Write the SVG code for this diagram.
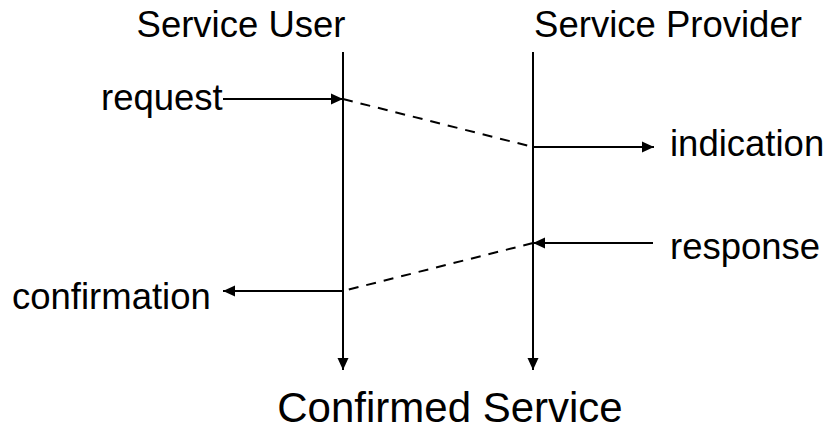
<svg xmlns="http://www.w3.org/2000/svg" width="833" height="438" viewBox="0 0 833 438">
<style>
text{font-family:"Liberation Sans",Arial,sans-serif;fill:#000}
.lbl{font-size:36.5px}
.ttl{font-size:42px}
.ln{stroke:#000;stroke-width:2;fill:none}
.dash{stroke:#000;stroke-width:2;fill:none;stroke-dasharray:10,8}
</style>
<defs>
<marker id="ah" viewBox="0 0 12 12" refX="12" refY="6" markerWidth="12" markerHeight="12" markerUnits="userSpaceOnUse" orient="auto">
<path d="M0,0.5 L12,6 L0,11.5 z" fill="#000"/>
</marker>
</defs>
<rect width="833" height="438" fill="#fff"/>
<g id="service-user">
<text class="lbl" x="241" y="37" text-anchor="middle">Service User</text>
</g>
<g id="service-provider">
<text class="lbl" x="668" y="37" text-anchor="middle">Service Provider</text>
</g>
<g id="request"><text class="lbl" x="101" y="110">request</text></g>
<g id="indication"><text class="lbl" x="670" y="156">indication</text></g>
<g id="response"><text class="lbl" x="670" y="259">response</text></g>
<g id="confirmation"><text class="lbl" x="12" y="309">confirmation</text></g>
<g id="title"><text class="ttl" x="450" y="422" text-anchor="middle">Confirmed Service</text></g>
<g id="connectors">
<line class="ln" x1="343" y1="52" x2="343" y2="370" marker-end="url(#ah)"/>
<line class="ln" x1="533" y1="52" x2="533" y2="370" marker-end="url(#ah)"/>
<line class="ln" x1="223" y1="99" x2="343" y2="99" marker-end="url(#ah)"/>
<line class="dash" x1="343" y1="99" x2="533" y2="147"/>
<line class="ln" x1="533" y1="147" x2="654" y2="147" marker-end="url(#ah)"/>
<line class="ln" x1="653" y1="243" x2="533" y2="243" marker-end="url(#ah)"/>
<line class="dash" x1="533" y1="243" x2="343" y2="291"/>
<line class="ln" x1="343" y1="291" x2="223" y2="291" marker-end="url(#ah)"/>
</g>
</svg>
